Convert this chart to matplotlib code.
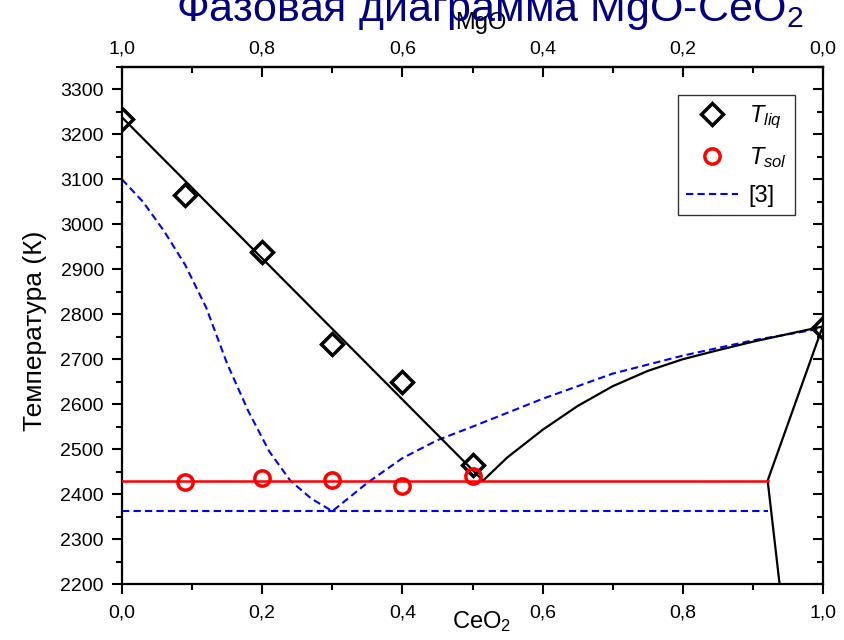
import matplotlib
matplotlib.use("Agg")
import matplotlib.pyplot as plt
from matplotlib.ticker import MultipleLocator, FuncFormatter

plt.rcParams['font.family'] = ['Liberation Sans', 'DejaVu Sans']
plt.rcParams['mathtext.fontset'] = 'custom'
plt.rcParams['mathtext.rm'] = 'Liberation Sans'
plt.rcParams['mathtext.it'] = 'Liberation Sans:italic'

# Experimental points
liq_x = [0.0, 0.09, 0.2, 0.3, 0.4, 0.5, 1.0]
liq_T = [3235, 3065, 2938, 2733, 2649, 2464, 2770]
sol_x = [0.09, 0.2, 0.3, 0.4, 0.5]
sol_T = [2427, 2436, 2431, 2418, 2440]

# Phase boundaries (this work)
liq_left_x = [0.0, 0.515]
liq_left_T = [3238, 2430]
liq_right_x = [0.515, 0.55, 0.6, 0.65, 0.7, 0.75, 0.8, 0.85, 0.9, 0.95, 1.0]
liq_right_T = [2430, 2482, 2543, 2596, 2640, 2674, 2700, 2720, 2739, 2756, 2773]
sol_line_x = [0.0, 0.921]
sol_line_T = [2430, 2430]
ss_x = [1.0, 0.921, 0.938]
ss_T = [2775, 2430, 2200]

# Literature diagram [3]
ref_x = [0.0, 0.03, 0.06, 0.09, 0.12, 0.15, 0.18, 0.21, 0.24, 0.27, 0.30,
         0.35, 0.40, 0.45, 0.5, 0.6, 0.7, 0.8, 0.9, 1.0]
ref_T = [3100, 3050, 2985, 2910, 2815, 2690, 2585, 2495, 2430, 2390, 2362,
         2425, 2480, 2520, 2550, 2612, 2668, 2708, 2742, 2769]
ref_eut_x = [0.0, 0.921]
ref_eut_T = [2362, 2362]

fig = plt.figure(figsize=(8.45, 6.4), dpi=100)
ax = fig.add_axes([0.1444, 0.0875, 0.8296, 0.8078])

dash = (0, (3.5, 2))
h_ref, = ax.plot(ref_x, ref_T, color='blue', lw=1.5, ls=dash, label='[3]', zorder=2)
ax.plot(ref_eut_x, ref_eut_T, color='blue', lw=1.5, ls=dash, zorder=2)
ax.plot(liq_left_x, liq_left_T, color='black', lw=1.6, zorder=3)
ax.plot(liq_right_x, liq_right_T, color='black', lw=1.6, zorder=3)
ax.plot(ss_x, ss_T, color='black', lw=1.6, zorder=3)
ax.plot(sol_line_x, sol_line_T, color='red', lw=1.8, zorder=3)

h_liq, = ax.plot(liq_x, liq_T, ls='none', marker='D', ms=11, mfc='none', mec='black',
                 mew=2.5, label=r'$T_{liq}$', zorder=5)
h_sol, = ax.plot(sol_x, sol_T, ls='none', marker='o', ms=11, mfc='none', mec='red',
                 mew=2.5, label=r'$T_{sol}$', zorder=5)

ax.set_xlim(0, 1)
ax.set_ylim(2200, 3350)

comma = FuncFormatter(lambda v, p: f"{v:.1f}".replace('.', ','))
ax.xaxis.set_major_locator(MultipleLocator(0.2))
ax.xaxis.set_minor_locator(MultipleLocator(0.1))
ax.xaxis.set_major_formatter(comma)
ax.yaxis.set_major_locator(MultipleLocator(100))
ax.yaxis.set_minor_locator(MultipleLocator(50))

ax.tick_params(axis='both', which='major', labelsize=14, length=7, width=1.5)
ax.tick_params(axis='both', which='minor', length=4, width=1.5)
ax.tick_params(axis='x', which='both', direction='out', pad=8)
ax.tick_params(axis='y', which='both', direction='out', right=True, pad=6)
for t in ax.yaxis.get_ticklines(minor=False)[1::2] + ax.yaxis.get_ticklines(minor=True)[1::2]:
    t.set_marker(0)  # inward-pointing ticks on the right spine
for sp in ax.spines.values():
    sp.set_linewidth(1.6)

top = ax.secondary_xaxis('top', functions=(lambda x: 1 - x, lambda x: 1 - x))
top.xaxis.set_major_locator(MultipleLocator(0.2))
top.xaxis.set_minor_locator(MultipleLocator(0.1))
top.xaxis.set_major_formatter(comma)
top.tick_params(axis='x', which='major', direction='in', labelsize=14, length=7, width=1.5, pad=7)
top.tick_params(axis='x', which='minor', direction='in', length=4, width=1.5)
top.spines['top'].set_linewidth(1.6)

# axis titles
fig.text(481 / 845, 1 - 28.5 / 640, 'MgO', fontsize=17, ha='center', va='baseline')
fig.text(482 / 845, 1 - 628 / 640, 'CeO$_2$', fontsize=17, ha='center', va='baseline')
ax.set_ylabel('Температура (К)', fontsize=19, va='center', ha='center')
ax.yaxis.set_label_coords(-(122 - 35) / 701, 0.49)

leg = ax.legend([h_liq, h_sol, h_ref], [r'$T_{liq}$', r'$T_{sol}$', '[3]'],
                loc='upper left', bbox_to_anchor=((678 - 122) / 701, 1 - (95 - 67) / 517),
                fontsize=17, frameon=True, fancybox=False, edgecolor='black',
                handlelength=2.2, handletextpad=0.45, borderpad=0.35, labelspacing=0.62,
                borderaxespad=0.0)
leg.get_frame().set_linewidth(1.0)

fig.text(0.58, 1 - 21.5 / 640, 'Фазовая диаграмма MgO-CeO$_2$', color='#000080',
         fontsize=31, ha='center', va='baseline')

fig.savefig('out.png', dpi=100)
